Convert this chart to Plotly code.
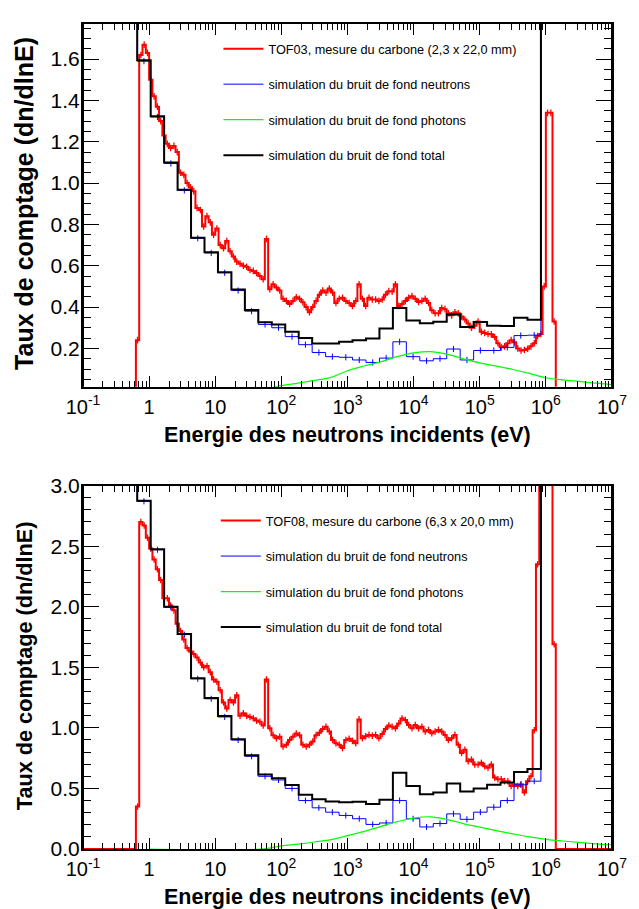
import plotly.graph_objects as go

FONT = "Liberation Sans, Arial, Helvetica, sans-serif"

# ---------------- data ----------------
# Measured spectra: fine histogram, bins of 0.05 decade starting at 10^-0.2 eV
meas_first_log_edge = -0.2
meas_log_bin_width = 0.05

tof03_measure = [
    0.24, 1.62, 1.67, 1.63, 1.50, 1.42, 1.37, 1.30, 1.23, 1.19,
    1.17, 1.18, 1.15, 1.05, 1.04, 1.00, 0.98, 0.96, 0.88, 0.87,
    0.79, 0.84, 0.81, 0.75, 0.78, 0.70, 0.685, 0.72, 0.67, 0.645,
    0.62, 0.61, 0.60, 0.595, 0.58, 0.575, 0.565, 0.55, 0.535, 0.73,
    0.486, 0.51, 0.495, 0.48, 0.44, 0.43, 0.415, 0.43, 0.447, 0.44,
    0.423, 0.40, 0.375, 0.40, 0.43, 0.46, 0.48, 0.47, 0.49, 0.47,
    0.42, 0.44, 0.445, 0.43, 0.42, 0.405, 0.43, 0.51, 0.44, 0.405,
    0.445, 0.437, 0.437, 0.43, 0.437, 0.46, 0.477, 0.475, 0.51, 0.405,
    0.415, 0.43, 0.445, 0.453, 0.44, 0.425, 0.43, 0.44, 0.42, 0.385,
    0.37, 0.37, 0.395, 0.39, 0.37, 0.36, 0.375, 0.37, 0.355, 0.34,
    0.32, 0.30, 0.31, 0.33, 0.28, 0.275, 0.27, 0.268, 0.255, 0.225,
    0.205, 0.21, 0.225, 0.24, 0.23, 0.20, 0.19, 0.192, 0.198, 0.21,
    0.225, 0.26, 0.27, 0.50, 1.34, 1.34, 0.33,
]
tof03_measure_err = 0.016

tof08_measure = [
    0.35, 2.70, 2.67, 2.57, 2.48, 2.39, 2.31, 2.22, 2.07, 2.07,
    2.01, 1.97, 1.86, 1.80, 1.73, 1.66, 1.63, 1.61, 1.58, 1.54,
    1.50, 1.51, 1.46, 1.40, 1.38, 1.31, 1.21, 1.16, 1.23, 1.21,
    1.27, 1.10, 1.12, 1.10, 1.09, 1.08, 1.06, 1.05, 1.02, 1.40,
    0.996, 0.94, 0.914, 0.927, 0.846, 0.86, 0.90, 0.927, 0.954, 0.94,
    0.86, 0.846, 0.86, 0.887, 0.94, 0.96, 0.99, 1.01, 0.97, 0.90,
    0.874, 0.86, 0.833, 0.90, 0.91, 0.893, 0.874, 1.07, 0.915, 0.93,
    0.942, 0.935, 0.942, 0.915, 0.95, 0.99, 1.02, 1.01, 0.996, 1.037,
    1.077, 1.064, 1.023, 0.996, 1.023, 0.996, 1.01, 0.97, 0.983, 0.956,
    0.97, 0.983, 0.97, 0.942, 0.90, 0.915, 0.942, 0.86, 0.793, 0.82,
    0.724, 0.738, 0.697, 0.697, 0.711, 0.684, 0.67, 0.697, 0.59, 0.575,
    0.575, 0.56, 0.56, 0.52, 0.534, 0.52, 0.534, 0.467, 0.56, 0.60,
    0.98, 2.35, 4.5, 4.5, 4.5, 4.5, 1.69,
]
tof08_measure_err = 0.027

# Simulated backgrounds: one first bin from 10^-1 eV (content far above the frame),
# 30 bins of 0.2035 decade from 10^-0.18 eV, then one last bin up to 10^7 eV
# (content again far above the frame)
sim_lowest_log_edge = -1.0
sim_first_log_edge = -0.18
sim_log_bin_width = 0.2035
sim_last_log_edge = 7.0

tof03_total = [
    1.595, 1.324, 1.10, 0.968, 0.736, 0.665, 0.569, 0.485, 0.386, 0.327,
    0.316, 0.28, 0.25, 0.224, 0.224, 0.232, 0.24, 0.248, 0.296, 0.396,
    0.335, 0.322, 0.329, 0.364, 0.304, 0.328, 0.31, 0.308, 0.348, 0.339,
]
tof03_total_outer = [5.0, 5.0]
tof03_neutrons = [
    1.59, 1.32, 1.095, 0.965, 0.733, 0.662, 0.566, 0.48, 0.38, 0.316,
    0.30, 0.257, 0.218, 0.18, 0.16, 0.157, 0.144, 0.132, 0.153, 0.232,
    0.16, 0.14, 0.15, 0.197, 0.144, 0.19, 0.19, 0.205, 0.262, 0.264,
]
tof03_neutrons_outer = [5.0, 5.0]
tof03_neutrons_err = 0.015

tof08_total = [
    2.875, 2.475, 2.0, 1.775, 1.409, 1.246, 1.097, 0.906, 0.774, 0.616,
    0.584, 0.529, 0.448, 0.41, 0.393, 0.385, 0.39, 0.372, 0.407, 0.63,
    0.52, 0.453, 0.467, 0.54, 0.475, 0.50, 0.53, 0.548, 0.635, 0.66,
]
tof08_total_outer = [6.0, 6.0]
tof08_neutrons = [
    2.87, 2.47, 1.995, 1.77, 1.405, 1.24, 1.09, 0.90, 0.765, 0.60,
    0.57, 0.50, 0.40, 0.34, 0.304, 0.277, 0.25, 0.203, 0.215, 0.40,
    0.25, 0.182, 0.21, 0.29, 0.245, 0.304, 0.345, 0.40, 0.53, 0.56,
]
tof08_neutrons_outer = [6.0, 6.0]
tof08_neutrons_err = 0.025

# Photon background (smooth), read at these log10(E) positions
photon_log_energy = [0.0, 1.7, 2.0, 2.25, 2.5, 2.75, 3.0, 3.25, 3.5, 3.75, 4.0,
                     4.25, 4.5, 4.75, 5.0, 5.25, 5.5, 5.75, 6.0, 6.25, 6.5, 6.75, 7.0]
tof03_photons = [0.0, 0.0, 0.02, 0.032, 0.045, 0.06, 0.092, 0.115, 0.135, 0.16, 0.178,
                 0.184, 0.172, 0.15, 0.13, 0.114, 0.098, 0.079, 0.058, 0.048, 0.04, 0.032, 0.025]
tof08_photons = [0.0, 0.0, 0.025, 0.04, 0.058, 0.078, 0.11, 0.145, 0.185, 0.225, 0.255,
                 0.266, 0.245, 0.21, 0.18, 0.152, 0.125, 0.10, 0.08, 0.066, 0.054, 0.043, 0.033]

x_tick_exponents = [-1, 0, 1, 2, 3, 4, 5, 6, 7]
x_tick_labels = ["10<sup>-1</sup>", "1", "10", "10<sup>2</sup>", "10<sup>3</sup>",
                 "10<sup>4</sup>", "10<sup>5</sup>", "10<sup>6</sup>", "10<sup>7</sup>"]

legend_labels_top = ["TOF03, mesure du carbone (2,3 x 22,0 mm)",
                     "simulation du bruit de fond neutrons",
                     "simulation du bruit de fond photons",
                     "simulation du bruit de fond total"]
legend_labels_bottom = ["TOF08, mesure du carbone (6,3 x 20,0 mm)",
                        "simulation du bruit de fond neutrons",
                        "simulation du bruit de fond photons",
                        "simulation du bruit de fond total"]

RED, BLUE, GREEN, BLACK = "#ff0000", "#0000ff", "#00ff00", "#000000"

# ---------------- helpers ----------------
def edges(first, width, n):
    return [first + width * i for i in range(n + 1)]


def step_xy(log_edges, values):
    xs = [10 ** -1] + [10 ** e for e in log_edges] + [10 ** 7]
    ys = [0] + list(values) + [0, 0]
    return xs, ys


def centers(log_edges):
    return [10 ** ((a + b) / 2) for a, b in zip(log_edges[:-1], log_edges[1:])]


meas_edges_03 = edges(meas_first_log_edge, meas_log_bin_width, len(tof03_measure))
meas_edges_08 = edges(meas_first_log_edge, meas_log_bin_width, len(tof08_measure))
sim_edges = edges(sim_first_log_edge, sim_log_bin_width, len(tof03_total))
sim_all_edges = [sim_lowest_log_edge] + sim_edges + [sim_last_log_edge]

fig = go.Figure()


def add_panel(xa, ya, legend, labels, meas, meas_edges, meas_err,
              neut, neut_outer, neut_err, phot, total, total_outer):
    g = legend
    # measurement
    x, y = step_xy(meas_edges, meas)
    fig.add_trace(go.Scatter(x=x, y=y, mode="lines", line=dict(color=RED, width=2, shape="hv"),
                             name=labels[0], legend=legend, legendgroup=g + "r",
                             xaxis=xa, yaxis=ya))
    fig.add_trace(go.Scatter(x=centers(meas_edges), y=meas, mode="markers",
                             marker=dict(size=2, color=RED, opacity=0),
                             error_y=dict(type="constant", value=meas_err, width=0,
                                          thickness=1.3, color=RED),
                             showlegend=False, xaxis=xa, yaxis=ya, hoverinfo="skip"))
    # neutron background
    x, y = step_xy(sim_all_edges, [neut_outer[0]] + list(neut) + [neut_outer[1]])
    fig.add_trace(go.Scatter(x=x, y=y, mode="lines", line=dict(color=BLUE, width=1, shape="hv"),
                             name=labels[1], legend=legend, legendgroup=g + "b",
                             xaxis=xa, yaxis=ya))
    fig.add_trace(go.Scatter(x=centers(sim_edges), y=neut, mode="markers",
                             marker=dict(size=2, color=BLUE, opacity=0),
                             error_y=dict(type="constant", value=neut_err, width=0,
                                          thickness=1, color=BLUE),
                             showlegend=False, xaxis=xa, yaxis=ya, hoverinfo="skip"))
    # photon background
    fig.add_trace(go.Scatter(x=[10 ** e for e in photon_log_energy], y=phot, mode="lines",
                             line=dict(color=GREEN, width=1.2, shape="spline"),
                             name=labels[2], legend=legend, legendgroup=g + "g",
                             xaxis=xa, yaxis=ya))
    # total
    x, y = step_xy(sim_all_edges, [total_outer[0]] + list(total) + [total_outer[1]])
    fig.add_trace(go.Scatter(x=x, y=y, mode="lines", line=dict(color=BLACK, width=2, shape="hv"),
                             name=labels[3], legend=legend, legendgroup=g + "k",
                             xaxis=xa, yaxis=ya))


add_panel("x", "y", "legend", legend_labels_top, tof03_measure, meas_edges_03, tof03_measure_err,
          tof03_neutrons, tof03_neutrons_outer, tof03_neutrons_err, tof03_photons,
          tof03_total, tof03_total_outer)
add_panel("x2", "y2", "legend2", legend_labels_bottom, tof08_measure, meas_edges_08, tof08_measure_err,
          tof08_neutrons, tof08_neutrons_outer, tof08_neutrons_err, tof08_photons,
          tof08_total, tof08_total_outer)

minor_x = [k * 10 ** n for n in range(-1, 7) for k in range(2, 10)]


def xaxis_cfg(anchor):
    return dict(type="log", range=[-1, 7], domain=[0, 1], anchor=anchor,
                showline=True, linecolor="black", linewidth=2, mirror="ticks",
                ticks="inside", ticklen=11, tickwidth=1, tickcolor="black",
                tickmode="array", tickvals=[10 ** e for e in x_tick_exponents],
                ticktext=x_tick_labels, ticklabelstandoff=1,
                minor=dict(ticks="inside", ticklen=6, tickwidth=1, tickcolor="black",
                           tickmode="array", tickvals=minor_x),
                showgrid=False, zeroline=False,
                tickfont=dict(family=FONT, size=20, color="black"))


def yaxis_cfg(anchor, domain, rng, dtick, minor_dtick):
    return dict(range=rng, domain=domain, anchor=anchor,
                showline=True, linecolor="black", linewidth=2, mirror="ticks",
                ticks="inside", ticklen=16, tickwidth=1, tickcolor="black",
                tick0=0, dtick=dtick, tickformat=".1f", ticklabelstandoff=-3,
                minor=dict(ticks="inside", ticklen=8, tickwidth=1, tickcolor="black",
                           tick0=0, dtick=minor_dtick),
                showgrid=False, zeroline=False,
                tickfont=dict(family=FONT, size=21, color="black"))


leg_common = dict(xanchor="left", yanchor="top", bgcolor="rgba(0,0,0,0)",
                  font=dict(family=FONT, size=12.7, color="black"),
                  tracegroupgap=16, itemwidth=40, traceorder="grouped")

fig.update_layout(
    width=639, height=909,
    margin=dict(l=83, r=20, t=13, b=60),
    paper_bgcolor="white", plot_bgcolor="white",
    xaxis=xaxis_cfg("y"),
    yaxis=yaxis_cfg("x", [0.5602, 1.0], [0.014, 1.77], 0.2, 0.05),
    xaxis2=xaxis_cfg("y2"),
    yaxis2=yaxis_cfg("x2", [0.0, 0.4405], [0.0, 3.0], 0.5, 0.1),
    legend=dict(x=0.256, y=0.988, **leg_common),
    legend2=dict(x=0.251, y=0.416, **leg_common),
    annotations=[
        dict(text="<b>Taux de comptage (dn/dlnE)</b>", textangle=-90, xref="paper", yref="paper",
             x=-0.1119, y=0.7829, xanchor="center", yanchor="middle", showarrow=False,
             font=dict(family=FONT, size=25, color="black")),
        dict(text="<b>Energie des neutrons incidents (eV)</b>", xref="paper", yref="paper",
             x=0.5, y=0.5024, xanchor="center", yanchor="middle", showarrow=False,
             font=dict(family=FONT, size=21.5, color="black")),
        dict(text="<b>Taux de comptage (dn/dlnE)</b>", textangle=-90, xref="paper", yref="paper",
             x=-0.110, y=0.2225, xanchor="center", yanchor="middle", showarrow=False,
             font=dict(family=FONT, size=21.7, color="black")),
        dict(text="<b>Energie des neutrons incidents (eV)</b>", xref="paper", yref="paper",
             x=0.5, y=-0.0586, xanchor="center", yanchor="middle", showarrow=False,
             font=dict(family=FONT, size=21.5, color="black")),
    ],
    showlegend=True,
)

fig.write_html("out.html")
